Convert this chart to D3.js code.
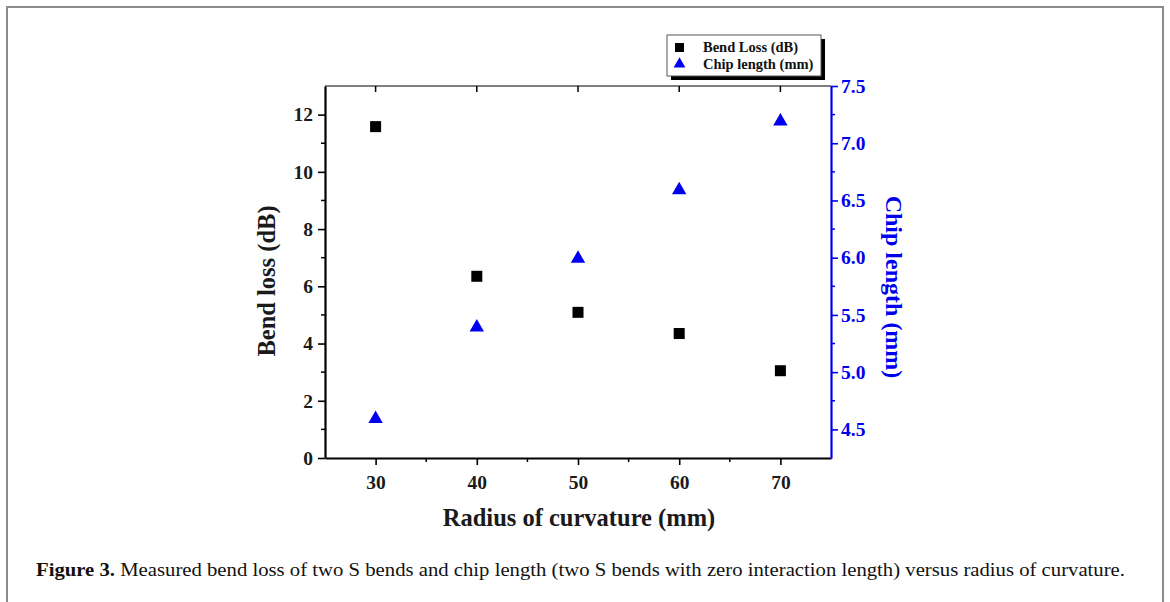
<!DOCTYPE html>
<html>
<head>
<meta charset="utf-8">
<script src="https://cdn.jsdelivr.net/npm/d3@7"></script>
<style>
    body { margin: 0; background: #fff; }
    text { font-family: "Liberation Serif", "Times New Roman", serif; }
</style>
</head>
<body>
<div id="chart"></div>
<script>

// radius of curvature (mm)
var radius = [30, 40, 50, 60, 70];
// bend loss of two S bends (dB)
var bendLoss = [11.58, 6.35, 5.09, 4.35, 3.05];
// chip length (mm)
var chipLength = [4.6, 5.4, 6.0, 6.6, 7.2];

var xTicks = [30, 40, 50, 60, 70];
var yLeftTicks = [0, 2, 4, 6, 8, 10, 12];
var yRightTicks = [4.5, 5.0, 5.5, 6.0, 6.5, 7.0, 7.5];

var svgWidth = 1170, svgHeight = 602;
var margin = {top: 86, right: 339, bottom: 144, left: 325};
var width = svgWidth - margin.left - margin.right;
var height = svgHeight - margin.top - margin.bottom;
var blue = "#0000f0";

var svg = d3.select("#chart").append("svg")
    .attr("width", svgWidth)
    .attr("height", svgHeight);

// outer figure frame (open at the bottom)
svg.append("path")
    .attr("d", "M7," + svgHeight + "V7H1163V" + svgHeight)
    .attr("fill", "none")
    .attr("stroke", "#8c8c8c")
    .attr("stroke-width", 2);

var plotArea = svg.append("g")
    .attr("transform", "translate(" + margin.left + "," + margin.top + ")");

var xscale = d3.scaleLinear().domain([25, 75]).range([0, width]);
var yscale = d3.scaleLinear().domain([0, 13]).range([height, 0]);
var yscale2 = d3.scaleLinear().domain([4.25, 7.5]).range([height, 0]);

// top frame line with inward ticks
plotArea.append("line")
    .attr("x1", 0).attr("x2", width)
    .attr("y1", 0).attr("y2", 0)
    .attr("stroke", "#000").attr("stroke-width", 1.2);
plotArea.selectAll(".top-tick")
    .data(xTicks)
    .enter().append("line")
    .attr("class", "top-tick")
    .attr("x1", d => xscale(d)).attr("x2", d => xscale(d))
    .attr("y1", 0).attr("y2", 6)
    .attr("stroke", "#000").attr("stroke-width", 1.5);

// minor ticks
var xMinor = [35, 45, 55, 65];
var yMinor = [1, 3, 5, 7, 9, 11];
var y2Minor = [4.75, 5.25, 5.75, 6.25, 6.75, 7.25];

var gX = plotArea.append("g")
    .attr("transform", "translate(0," + height + ")")
    .call(d3.axisBottom(xscale).tickValues(xTicks).tickSize(7).tickPadding(10).tickSizeOuter(0));
gX.selectAll(".minor")
    .data(xMinor)
    .enter().append("line")
    .attr("x1", d => xscale(d)).attr("x2", d => xscale(d))
    .attr("y1", 0).attr("y2", 4)
    .attr("stroke", "#000").attr("stroke-width", 1.5);

var gY = plotArea.append("g")
    .call(d3.axisLeft(yscale).tickValues(yLeftTicks).tickSize(7).tickPadding(5).tickSizeOuter(0));
gY.selectAll(".minor")
    .data(yMinor)
    .enter().append("line")
    .attr("x1", 0).attr("x2", -4)
    .attr("y1", d => yscale(d)).attr("y2", d => yscale(d))
    .attr("stroke", "#000").attr("stroke-width", 1.5);

var gY2 = plotArea.append("g")
    .attr("transform", "translate(" + width + ",0)")
    .call(d3.axisRight(yscale2).tickValues(yRightTicks).tickFormat(d3.format(".1f"))
        .tickSize(7).tickPadding(3).tickSizeOuter(0));
gY2.selectAll(".minor")
    .data(y2Minor)
    .enter().append("line")
    .attr("x1", 0).attr("x2", 4)
    .attr("y1", d => yscale2(d)).attr("y2", d => yscale2(d))
    .attr("stroke", blue).attr("stroke-width", 1.5);

[gX, gY, gY2].forEach(g => {
    g.select(".domain").attr("stroke-width", 2.2);
    g.selectAll(".tick line").attr("stroke-width", 1.6);
    g.selectAll(".tick text")
        .attr("font-family", "Liberation Serif")
        .attr("font-weight", "bold")
        .attr("font-size", 19.5)
        .attr("fill", "#1a1a1a");
});
gY2.select(".domain").attr("stroke", blue);
gY2.selectAll(".tick line").attr("stroke", blue);
gY2.selectAll(".tick text").attr("fill", blue);

// axis titles
svg.append("text")
    .attr("x", 579)
    .attr("y", 526)
    .attr("text-anchor", "middle")
    .attr("font-weight", "bold")
    .attr("font-size", 24.5)
    .attr("fill", "#1a1a1a")
    .text("Radius of curvature (mm)");

svg.append("text")
    .attr("transform", "translate(275,281) rotate(-90)")
    .attr("text-anchor", "middle")
    .attr("font-weight", "bold")
    .attr("font-size", 24.5)
    .attr("fill", "#1a1a1a")
    .text("Bend loss (dB)");

svg.append("text")
    .attr("transform", "translate(886,287) rotate(90)")
    .attr("text-anchor", "middle")
    .attr("font-weight", "bold")
    .attr("font-size", 24)
    .attr("fill", blue)
    .text("Chip length (mm)");

// data points
var sq = 11;
plotArea.selectAll(".loss")
    .data(radius.map((r, i) => ({x: r, y: bendLoss[i]})))
    .enter().append("rect")
    .attr("class", "loss")
    .attr("x", d => xscale(d.x) - sq / 2)
    .attr("y", d => yscale(d.y) - sq / 2)
    .attr("width", sq).attr("height", sq)
    .attr("fill", "#000");

var tri = d3.symbol().type(d3.symbolTriangle).size(90);
plotArea.selectAll(".chip")
    .data(radius.map((r, i) => ({x: r, y: chipLength[i]})))
    .enter().append("path")
    .attr("class", "chip")
    .attr("d", tri)
    .attr("transform", d => "translate(" + xscale(d.x) + "," + (yscale2(d.y) + 1) + ")")
    .attr("fill", blue);

// legend with drop shadow
var legend = svg.append("g").attr("transform", "translate(667,35)");
legend.append("rect")
    .attr("x", 4).attr("y", 4).attr("width", 154).attr("height", 41)
    .attr("fill", "#000");
legend.append("rect")
    .attr("x", 0).attr("y", 0).attr("width", 154).attr("height", 41)
    .attr("fill", "#fff").attr("stroke", "#555").attr("stroke-width", 1);
legend.append("rect")
    .attr("x", 8).attr("y", 8).attr("width", 9).attr("height", 9)
    .attr("fill", "#000");
legend.append("path")
    .attr("d", d3.symbol().type(d3.symbolTriangle).size(60))
    .attr("transform", "translate(12.5,29)")
    .attr("fill", blue);
legend.selectAll(".ltext")
    .data(["Bend Loss (dB)", "Chip length (mm)"])
    .enter().append("text")
    .attr("x", 36)
    .attr("y", (d, i) => 17 + i * 17)
    .attr("font-weight", "bold")
    .attr("font-size", 14.5)
    .attr("fill", "#111")
    .text(d => d);

// caption
var cap = svg.append("text")
    .attr("x", 36)
    .attr("y", 576)
    .attr("font-size", 19)
    .attr("textLength", 1089)
    .attr("lengthAdjust", "spacingAndGlyphs")
    .attr("fill", "#111");
cap.append("tspan").attr("font-weight", "bold").text("Figure 3.");
cap.append("tspan").text(" Measured bend loss of two S bends and chip length (two S bends with zero interaction length) versus radius of curvature.");

</script>
</body>
</html>
